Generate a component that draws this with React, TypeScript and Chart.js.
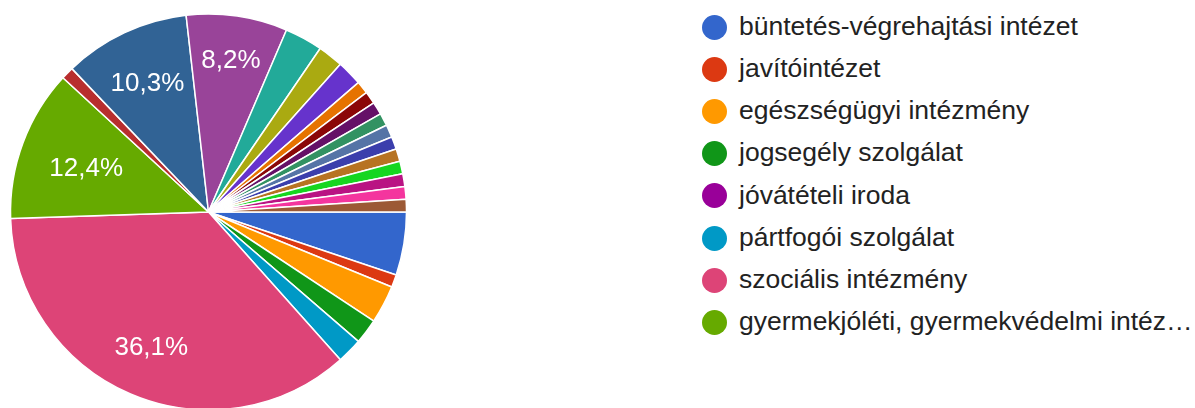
import React, { useEffect, useRef } from "react";
import { Chart, registerables } from "chart.js";

Chart.register(...registerables);

const categories = [
  "büntetés-végrehajtási intézet",
  "javítóintézet",
  "egészségügyi intézmény",
  "jogsegély szolgálat",
  "jóvátételi iroda",
  "pártfogói szolgálat",
  "szociális intézmény",
  "gyermekjóléti, gyermekvédelmi intézmény",
  "egyéb 1",
  "egyéb 2",
  "egyéb 3",
  "egyéb 4",
  "egyéb 5",
  "egyéb 6",
  "egyéb 7",
  "egyéb 8",
  "egyéb 9",
  "egyéb 10",
  "egyéb 11",
  "egyéb 12",
  "egyéb 13",
  "egyéb 14",
  "egyéb 15",
  "egyéb 16",
  "egyéb 17",
];

const counts = [5, 1, 3, 2, 0, 2, 35, 12, 1, 10, 8, 3, 2, 2, 1, 1, 1, 1, 1, 1, 1, 1, 1, 1, 1];

const colors = [
  "#3366cc", "#dc3912", "#ff9900", "#109618", "#990099", "#0099c6", "#dd4477",
  "#66aa00", "#b82e2e", "#316395", "#994499", "#22aa99", "#aaaa11", "#6633cc",
  "#e67300", "#8b0707", "#651067", "#329262", "#5574a6", "#3b3eac", "#b77322",
  "#16d620", "#b91383", "#f4359e", "#9c5935",
];

const legendCount = 8;
const FONT = '"Liberation Sans", Arial, sans-serif';
const LEGEND_FONT_SIZE = 26.5;
const LABEL_FONT_SIZE = 26;

const total = counts.reduce((a, b) => a + b, 0);

function fmtPct(v: number) {
  return ((v / total) * 100).toFixed(1).replace(".", ",") + "%";
}

function truncate(text: string, maxWidth: number) {
  const c = document.createElement("canvas").getContext("2d")!;
  c.font = `${LEGEND_FONT_SIZE}px ${FONT}`;
  if (c.measureText(text).width <= maxWidth) return text;
  let s = text;
  while (s.length > 0 && c.measureText(s + "…").width > maxWidth) s = s.slice(0, -1);
  return s.trimEnd() + "…";
}

const labelPlugin = {
  id: "sliceLabels",
  afterDatasetsDraw(chart: any) {
    const ctx = chart.ctx;
    const meta = chart.getDatasetMeta(0);
    ctx.save();
    ctx.font = `${LABEL_FONT_SIZE}px ${FONT}`;
    ctx.fillStyle = "#ffffff";
    ctx.textAlign = "center";
    ctx.textBaseline = "alphabetic";
    meta.data.forEach((arc: any, i: number) => {
      const v = counts[i];
      if (v / total < 0.08) return;
      const { x, y, startAngle, endAngle, outerRadius } = arc.getProps(
        ["x", "y", "startAngle", "endAngle", "outerRadius"],
        true
      );
      const mid = (startAngle + endAngle) / 2;
      const text = fmtPct(v);
      const w = ctx.measureText(text).width;
      const h = LABEL_FONT_SIZE * 0.716;
      const c = Math.cos(mid);
      const s = Math.sin(mid);
      const r = outerRadius * 0.85 - (Math.abs(c) * w) / 2 - (Math.abs(s) * h) / 2;
      const cx = x + c * r;
      const cy = y + s * r;
      ctx.fillText(text, cx, cy + h / 2);
    });
    ctx.restore();
  },
};

export default function App() {
  const ref = useRef<HTMLCanvasElement>(null);

  useEffect(() => {
    if (!ref.current) return;
    const chart = new Chart(ref.current, {
      type: "pie",
      data: {
        labels: categories,
        datasets: [
          {
            data: counts,
            backgroundColor: colors,
            borderColor: "#ffffff",
            borderWidth: 1.5,
            hoverOffset: 0,
          },
        ],
      },
      options: {
        animation: false,
        responsive: false,
        rotation: 90,
        radius: 198,
        layout: { padding: 0 },
        plugins: {
          legend: { display: false },
          tooltip: { enabled: false },
        },
      },
      plugins: [labelPlugin],
    });
    return () => chart.destroy();
  }, []);

  const legendItems = categories.slice(0, legendCount).map((name, i) => ({
    name: truncate(name, 455),
    color: colors[i],
  }));

  return (
    <div
      style={{
        position: "fixed",
        left: 0,
        top: 0,
        width: 1195,
        height: 408,
        background: "#ffffff",
        overflow: "hidden",
      }}
    >
      <canvas
        ref={ref}
        width={417}
        height={424}
        style={{ position: "absolute", left: 0, top: 0, width: 417, height: 424 }}
      />
      {legendItems.map((it, i) => (
        <React.Fragment key={i}>
          <div
            style={{
              position: "absolute",
              left: 714 - 12.5,
              top: 27 + 42.2 * i - 12.5,
              width: 25,
              height: 25,
              borderRadius: "50%",
              background: it.color,
            }}
          />
          <div
            style={{
              position: "absolute",
              left: 739,
              top: 35 + 42.2 * i - 24.2,
              fontFamily: FONT,
              fontSize: LEGEND_FONT_SIZE,
              lineHeight: "30px",
              color: "#222222",
              whiteSpace: "nowrap",
            }}
          >
            {it.name}
          </div>
        </React.Fragment>
      ))}
    </div>
  );
}
